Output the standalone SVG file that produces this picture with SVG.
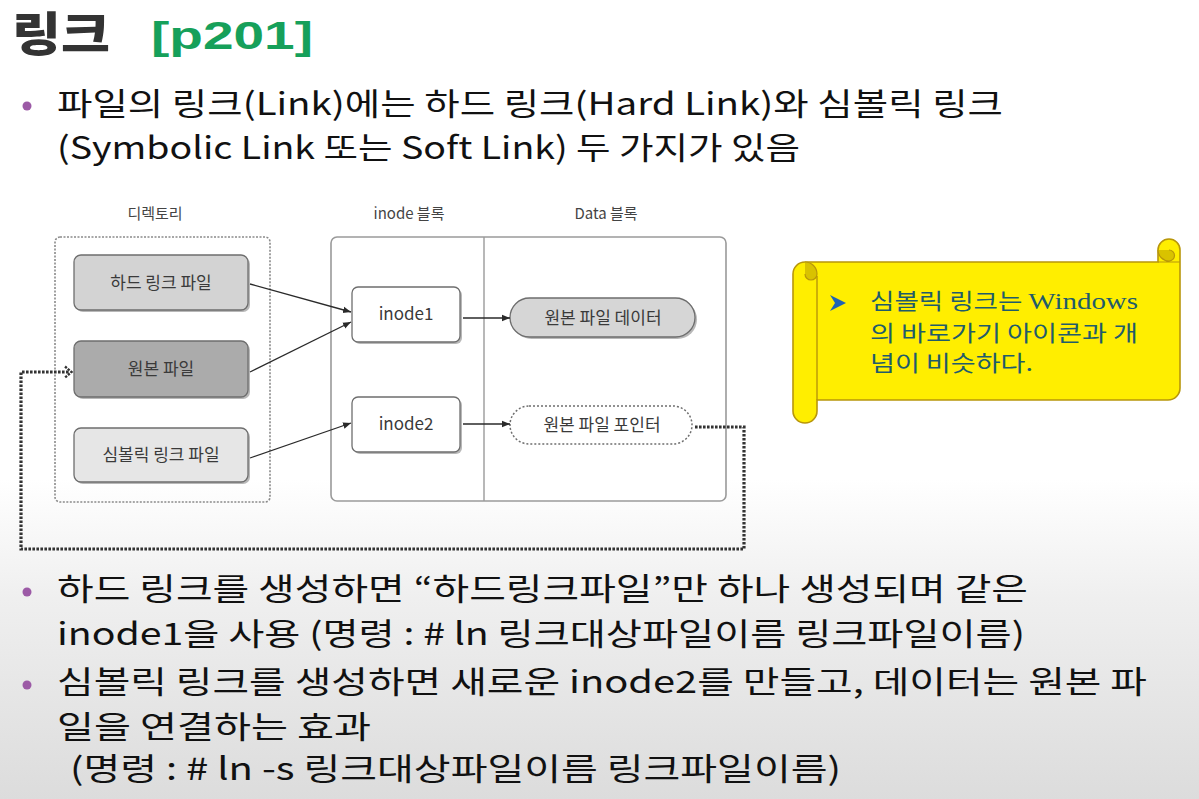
<svg xmlns="http://www.w3.org/2000/svg" width="1199" height="799" viewBox="0 0 1199 799">
<defs>
<linearGradient id="bg" x1="0" y1="0" x2="0" y2="1">
<stop offset="0" stop-color="#ffffff"/>
<stop offset="0.6" stop-color="#ffffff"/>
<stop offset="0.75" stop-color="#efefef"/>
<stop offset="1" stop-color="#dcdcdc"/>
</linearGradient>
<marker id="arr" viewBox="0 0 10 10" refX="10" refY="5" markerWidth="8" markerHeight="8" markerUnits="userSpaceOnUse" orient="auto">
<path d="M0,1 L10,5 L0,9 Z" fill="#2a2a2a"/>
</marker>
<style>
.kr{font-family:"Noto Sans CJK KR","Noto Sans",sans-serif;}
.body{font-size:31px;fill:#111;}
.lbl{font-size:17px;fill:#3a3a3a;text-anchor:middle;}
.col{font-size:15px;fill:#444;text-anchor:middle;}
.box{stroke:#6e6e6e;stroke-width:1.3;}
.shadow{fill:#9a9a9a;opacity:0.7;}
.conn{stroke:#2a2a2a;stroke-width:1.3;fill:none;}
.dots{stroke:#333;stroke-width:3.2;stroke-dasharray:2.6 1.4;fill:none;}
.bullet{fill:#9c5aa6;}
.call{font-size:22px;fill:#1f5c6b;}
</style>
</defs>
<rect x="0" y="0" width="1199" height="799" fill="url(#bg)"/>

<g id="title">
<text x="12" y="51" class="kr" font-size="47" font-weight="900" fill="#333" textLength="98" lengthAdjust="spacingAndGlyphs">링크</text>
<text x="151" y="49" font-family="Liberation Sans, Arial, sans-serif" font-size="38" font-weight="bold" fill="#16a05a" textLength="162" lengthAdjust="spacingAndGlyphs">[p201]</text>
</g>

<g id="intro">
<circle cx="27" cy="106" r="4.5" class="bullet"/>
<text x="57" y="115" class="kr body" textLength="946" lengthAdjust="spacingAndGlyphs">파일의 링크(Link)에는 하드 링크(Hard Link)와 심볼릭 링크</text>
<text x="57" y="159" class="kr body" textLength="743" lengthAdjust="spacingAndGlyphs">(Symbolic Link 또는 Soft Link) 두 가지가 있음</text>
</g>

<g id="labels">
<text x="155" y="219" class="kr col">디렉토리</text>
<text x="409" y="219" class="kr col">inode 블록</text>
<text x="606" y="219" class="kr col">Data 블록</text>
</g>

<g id="directory">
<rect x="55" y="237" width="215" height="265" rx="5" fill="none" stroke="#8a8a8a" stroke-width="1.6" stroke-dasharray="2 1.5"/>
</g>

<g id="blocks">
<rect x="331" y="237" width="395" height="264" rx="6" fill="#ffffff" stroke="#9a9a9a" stroke-width="1.6"/>
<line x1="484" y1="237" x2="484" y2="501" stroke="#9a9a9a" stroke-width="1.4"/>
</g>

<g id="hardlink">
<rect x="76" y="257" width="174" height="55" rx="7" class="shadow"/>
<rect x="74" y="255" width="174" height="55" rx="7" fill="#d3d3d3" class="box"/>
<text x="161" y="289" class="kr lbl">하드 링크 파일</text>
</g>

<g id="original">
<rect x="76" y="343" width="174" height="56" rx="7" class="shadow"/>
<rect x="74" y="341" width="174" height="56" rx="7" fill="#ababab" class="box"/>
<text x="161" y="375" class="kr lbl">원본 파일</text>
</g>

<g id="symlink">
<rect x="76" y="430" width="174" height="54" rx="7" class="shadow"/>
<rect x="74" y="428" width="174" height="54" rx="7" fill="#e6e6e6" class="box"/>
<text x="161" y="461" class="kr lbl">심볼릭 링크 파일</text>
</g>

<g id="inode1">
<rect x="354" y="289" width="108" height="55" rx="6" class="shadow"/>
<rect x="352" y="287" width="108" height="55" rx="6" fill="#ffffff" class="box"/>
<text x="406" y="320" class="kr lbl">inode1</text>
</g>

<g id="inode2">
<rect x="354" y="399" width="108" height="55" rx="6" class="shadow"/>
<rect x="352" y="397" width="108" height="55" rx="6" fill="#ffffff" class="box"/>
<text x="406" y="430" class="kr lbl">inode2</text>
</g>

<g id="data">
<rect x="512" y="300" width="185" height="39" rx="19.5" class="shadow"/>
<rect x="510" y="298" width="185" height="39" rx="19.5" fill="#d6d6d6" class="box"/>
<text x="603" y="324" class="kr lbl">원본 파일 데이터</text>
</g>

<g id="pointer">
<rect x="510" y="406" width="182" height="38" rx="19" fill="#ffffff" stroke="#6e6e6e" stroke-width="1.5" stroke-dasharray="2 2"/>
<text x="602" y="431" class="kr lbl">원본 파일 포인터</text>
</g>

<g id="connectors">
<line x1="250" y1="284" x2="351" y2="312" class="conn" marker-end="url(#arr)"/>
<line x1="250" y1="372" x2="351" y2="322" class="conn" marker-end="url(#arr)"/>
<line x1="250" y1="458" x2="351" y2="423" class="conn" marker-end="url(#arr)"/>
<line x1="463" y1="318" x2="510" y2="318" class="conn" marker-end="url(#arr)"/>
<line x1="463" y1="424" x2="510" y2="424" class="conn" marker-end="url(#arr)"/>
<path d="M695,427 H744 V549 H21 V372 H70" class="dots"/>
<polyline points="65,366.5 71.5,372 65,377.5" fill="none" stroke="#333" stroke-width="2.4" stroke-dasharray="2.4 1.2"/>
</g>

<g id="callout">
<path d="M817,400 H1168 A12,12 0 0 0 1180,388 V250 A11,11 0 0 0 1158,250 V262 H805 A12,12 0 0 0 793,274 V411 A12,12 0 0 0 817,411 Z" fill="#ffee00" stroke="#b8960a" stroke-width="1.6"/>
<path d="M817,276 V400" stroke="#b8960a" stroke-width="1.4" fill="none"/>
<path d="M805,262 A12,12 0 0 1 817,274 A6,6 0 0 1 805,274" fill="#d9c200" stroke="#b8960a" stroke-width="1.2"/>
<path d="M1158,262 H1180 M1169,250 A5.5,5.5 0 0 1 1169,261 A11,11 0 0 1 1158,250" fill="#d9c200" stroke="#b8960a" stroke-width="1.2"/>
<path d="M830,295 L846,303 L830,311 L835,303 Z" fill="#1f63b5"/>
<text x="870" y="309" class="kr call" textLength="268" lengthAdjust="spacingAndGlyphs">심볼릭 링크는 <tspan font-family="Liberation Serif, serif" font-size="24">Windows</tspan></text>
<text x="870" y="341" class="kr call" textLength="268" lengthAdjust="spacingAndGlyphs">의 바로가기 아이콘과 개</text>
<text x="870" y="371" class="kr call" textLength="163" lengthAdjust="spacingAndGlyphs">념이 비슷하다.</text>
</g>

<g id="notes">
<circle cx="27" cy="592" r="4.5" class="bullet"/>
<text x="57" y="600" class="kr body" textLength="971" lengthAdjust="spacingAndGlyphs">하드 링크를 생성하면 “하드링크파일”만 하나 생성되며 같은</text>
<text x="57" y="645" class="kr body" textLength="968" lengthAdjust="spacingAndGlyphs">inode1을 사용 (명령 : # ln 링크대상파일이름 링크파일이름)</text>
<circle cx="27" cy="685" r="4.5" class="bullet"/>
<text x="57" y="693" class="kr body" textLength="1090" lengthAdjust="spacingAndGlyphs">심볼릭 링크를 생성하면 새로운 inode2를 만들고, 데이터는 원본 파</text>
<text x="57" y="738" class="kr body" textLength="314" lengthAdjust="spacingAndGlyphs">일을 연결하는 효과</text>
<text x="70" y="780" class="kr body" textLength="771" lengthAdjust="spacingAndGlyphs">(명령 : # ln -s 링크대상파일이름 링크파일이름)</text>
</g>
</svg>
